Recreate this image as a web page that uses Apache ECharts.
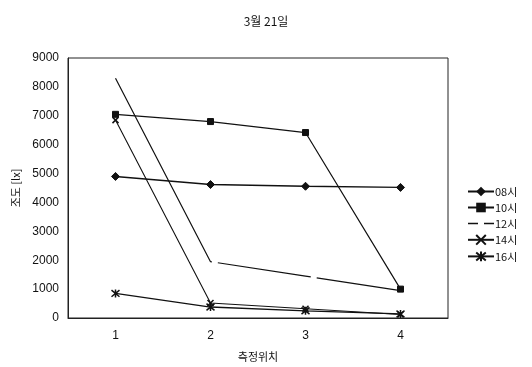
<!DOCTYPE html>
<html><head><meta charset="utf-8">
<script src="https://cdn.jsdelivr.net/npm/echarts@6/dist/echarts.min.js"></script>
<style>html,body{margin:0;padding:0;background:#fff}#c{width:532px;height:367px}</style>
</head><body><div id="c"></div>
<script>
const categories = ['1', '2', '3', '4'];
const seriesNames = ['08시', '10시', '12시', '14시', '16시'];
const s08 = [4900, 4620, 4560, 4520];
const s10 = [7050, 6800, 6420, 1000];
const s12 = [8300, 1950, 1450, 950];
const s14 = [6850, 520, 320, 120];
const s16 = [850, 380, 250, 140];
const yTicks = [0, 1000, 2000, 3000, 4000, 5000, 6000, 7000, 8000, 9000];

const FONT = '"Liberation Sans", "Noto Sans CJK KR", sans-serif';
const KFONT = '"Noto Sans CJK KR", sans-serif';
const xMark = 'path://M0,0L10,10M10,0L0,10';
const star = 'path://M0,0L10,10M10,0L0,10M5,-1L5,11';

function mk(name, data, symbol, size, lineType, width, strokeSymbol) {
  return {
    name, type: 'line', data, symbol, symbolSize: size, showSymbol: symbol !== 'none',
    lineStyle: { color: '#111', width: width, type: lineType },
    itemStyle: strokeSymbol ? { color: 'transparent', borderColor: '#111', borderWidth: 1.5 } : { color: '#111', borderColor: '#111' },
    emphasis: { disabled: true }, animation: false
  };
}

const legendData = seriesNames.map(function (n) {
  if (n === '12시') return { name: n, icon: 'path://M0,0H10V1.4H0ZM16,0H26V1.4H16Z', itemStyle: { color: '#111' } };
  return { name: n };
});

const chart = echarts.init(document.getElementById('c'), null, { renderer: 'canvas' });
chart.setOption({
  backgroundColor: '#fff',
  animation: false,
  title: { text: '3월 21일', left: 'center', top: 10, textStyle: { fontFamily: KFONT, fontSize: 12, fontWeight: 'normal', color: '#111' } },
  grid: { left: 68, right: 84, top: 58, bottom: 45, show: true, borderColor: '#222', borderWidth: 1 },
  legend: {
    orient: 'vertical', left: 462, top: 181, itemGap: 5, itemWidth: 26, itemHeight: 12,
    data: legendData,
    textStyle: { fontFamily: KFONT, fontSize: 11, color: '#111', padding: [0, 0, 0, -4] }
  },
  xAxis: {
    type: 'category', data: categories, boundaryGap: true,
    name: '측정위치', nameLocation: 'middle', nameGap: 33,
    nameTextStyle: { fontFamily: KFONT, fontSize: 11, color: '#111' },
    axisLine: { lineStyle: { color: '#222' } },
    axisTick: { show: false },
    axisLabel: { fontFamily: FONT, fontSize: 12, color: '#111', margin: 12 }
  },
  yAxis: {
    type: 'value', min: yTicks[0], max: yTicks[yTicks.length - 1], interval: 1000,
    name: '조도 [lx]', nameLocation: 'middle', nameGap: 46, nameRotate: 90,
    nameTextStyle: { fontFamily: KFONT, fontSize: 11, color: '#111' },
    axisLine: { show: true, lineStyle: { color: '#222' } },
    axisTick: { show: false },
    splitLine: { show: false },
    axisLabel: { fontFamily: FONT, fontSize: 12, color: '#111', margin: 9, formatter: function (v) { return String(v); } }
  },
  series: [
    mk('08시', s08, 'diamond', 8, 'solid', 1.4, false),
    mk('10시', s10, 'rect', 6, 'solid', 1.2, false),
    mk('12시', s12, 'none', 0, [208, 6, 94, 6, 200, 10], 1.2, false),
    mk('14시', s14, xMark, 6, 'solid', 1.1, true),
    mk('16시', s16, star, 8, 'solid', 1.3, true)
  ]
});
</script></body></html>
